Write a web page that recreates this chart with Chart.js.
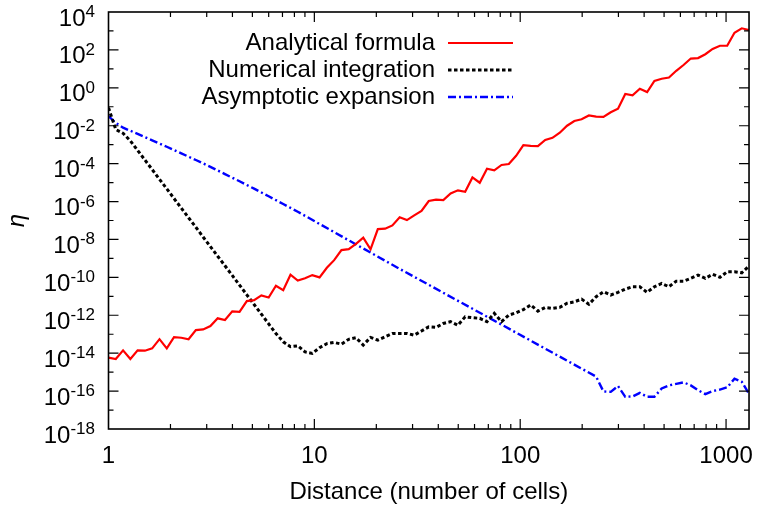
<!DOCTYPE html>
<html>
<head>
<meta charset="utf-8">
<script src="https://cdn.jsdelivr.net/npm/chart.js@4/dist/chart.umd.min.js"></script>
<style>
  html, body { margin: 0; padding: 0; background: #ffffff; }
  canvas { display: block; }
</style>
</head>
<body>
<canvas id="c" width="766" height="507"></canvas>
<script>
// ---------- data ----------
const distance = [
  1, 1.085, 1.177, 1.277, 1.385, 1.503, 1.630, 1.769, 1.919, 2.081,
  2.258, 2.449, 2.657, 2.882, 3.127, 3.392, 3.680, 3.992, 4.331, 4.698,
  5.097, 5.529, 5.998, 6.507, 7.059, 7.658, 8.307, 9.012, 9.774, 10.60,
  11.50, 12.48, 13.54, 14.69, 15.93, 17.28, 18.75, 20.34, 22.07, 23.94,
  25.97, 28.17, 30.56, 33.15, 35.96, 39.01, 42.32, 45.91, 49.81, 54.03,
  58.61, 63.59, 68.98, 74.83, 81.17, 88.06, 95.52, 103.6, 112.4, 121.9,
  132.3, 143.5, 155.7, 168.9, 183.2, 198.7, 215.6, 233.9, 253.7, 275.3,
  298.6, 323.9, 351.4, 381.2, 413.6, 448.7, 486.7, 528.0, 572.8, 621.4,
  674.1, 731.3, 793.3, 860.6, 933.6, 1013, 1099, 1192, 1293
];
const analytical = [
  5.8e-15, 4.9e-15, 1.4e-14, 4.9e-15, 1.4e-14, 1.35e-14, 1.8e-14, 5.5e-14, 1.8e-14, 7.1e-14,
  6.5e-14, 5.4e-14, 1.66e-13, 1.8e-13, 2.7e-13, 6.9e-13, 5.6e-13, 1.6e-12, 1.5e-12, 5.6e-12,
  6.3e-12, 1.12e-11, 8.7e-12, 3.6e-11, 2.1e-11, 1.38e-10, 6.8e-11, 8.9e-11, 1.32e-10, 1.0e-10,
  3.2e-10, 8.1e-10, 2.75e-9, 3.1e-9, 5.8e-9, 1.23e-8, 3.0e-9, 3.5e-8, 3.7e-8, 5.5e-8,
  1.48e-7, 1.05e-7, 1.86e-7, 3.2e-7, 1.07e-6, 1.26e-6, 1.2e-6, 2.7e-6, 3.9e-6, 3.3e-6,
  1.86e-5, 9.8e-6, 5.4e-5, 4.4e-5, 8.5e-5, 9.5e-5, 2.6e-4, 9.5e-4, 8.7e-4, 8.5e-4,
  1.78e-3, 2.3e-3, 4.3e-3, 1.0e-2, 1.78e-2, 2.2e-2, 3.5e-2, 3.0e-2, 2.9e-2, 5.1e-2,
  7.9e-2, 0.47, 0.40, 0.89, 0.60, 2.3, 3.0, 3.5, 7.9, 16,
  35, 37, 59, 112, 166, 166, 810, 1380, 1120
];
const numerical = [
  8.9e-2, 6.3e-3, 4.0e-3, 1.6e-3, 5.0e-4, 1.55e-4, 4.9e-5, 1.5e-5, 4.7e-6, 1.45e-6,
  4.5e-7, 1.4e-7, 4.4e-8, 1.35e-8, 4.2e-9, 1.3e-9, 4.1e-10, 1.26e-10, 3.9e-11, 1.2e-11,
  3.7e-12, 1.15e-12, 3.5e-13, 1.1e-13, 4.0e-14, 2.2e-14, 2.45e-14, 1.17e-14, 9.8e-15, 1.95e-14,
  3.2e-14, 3.7e-14, 3.0e-14, 5.4e-14, 6.5e-14, 2.7e-14, 6.8e-14, 4.9e-14, 7.4e-14, 1.1e-13,
  1.1e-13, 1.1e-13, 8.9e-14, 1.48e-13, 2.45e-13, 2.3e-13, 3.7e-13, 4.6e-13, 3.0e-13, 8.3e-13,
  7.4e-13, 6.9e-13, 4.6e-13, 1.26e-12, 4.6e-13, 1.02e-12, 1.35e-12, 2.0e-12, 3.5e-12, 1.66e-12,
  2.6e-12, 2.3e-12, 2.6e-12, 4.3e-12, 5.1e-12, 7.1e-12, 3.8e-12, 9.5e-12, 1.74e-11, 1.17e-11,
  1.62e-11, 2.4e-11, 3.2e-11, 3.2e-11, 1.62e-11, 3.2e-11, 4.8e-11, 3.2e-11, 6.3e-11, 6.3e-11,
  8.9e-11, 1.32e-10, 8.9e-11, 1.45e-10, 1.0e-10, 2.0e-10, 2.0e-10, 1.74e-10, 4.0e-10
];
const asymDistance = [
  1, 1.085, 1.177, 1.277, 1.385, 1.503, 1.630, 1.769, 1.919,
  2.258, 2.657, 3.127, 3.680, 4.331, 5.097, 5.998, 7.059, 8.307,
  25.97, 81.17,
  233.9, 253.7, 275.3, 298.6, 323.9, 351.4, 381.2, 413.6, 448.7, 486.7, 528.0,
  572.8, 621.4, 674.1, 731.3, 793.3, 860.6, 933.6, 1013, 1099, 1192, 1293
];
const asymptotic = [
  3.2e-2, 1.41e-2, 7.9e-3, 5.4e-3, 3.7e-3, 2.5e-3, 1.7e-3, 1.15e-3, 7.8e-4,
  3.5e-4, 1.55e-4, 6.8e-5, 2.8e-5, 1.17e-5, 4.8e-6, 1.9e-6, 7.4e-7, 2.9e-7,
  2.8e-10, 3.2e-13,
  5.8e-16, 9.5e-17, 9.1e-17, 1.86e-16, 5.0e-17, 5.2e-17, 8.1e-17, 5.0e-17, 5.0e-17, 1.38e-16, 2.0e-16,
  2.4e-16, 2.9e-16, 2.0e-16, 1.12e-16, 6.9e-17, 1.0e-16, 1.2e-16, 1.58e-16, 4.5e-16, 3.1e-16, 7.2e-17
];
const seriesNames = ['Analytical formula', 'Numerical integration', 'Asymptotic expansion'];
const xTickValues = [1, 10, 100, 1000];
const yTickPowers = [4, 2, 0, -2, -4, -6, -8, -10, -12, -14, -16, -18];
const xTitle = 'Distance (number of cells)';
const yTitle = 'η';

// ---------- chart ----------
const FONT = "'Liberation Sans', Arial, Helvetica, sans-serif";
const FS = 24;
const SUP = 17;

const pts = (xs, ys) => xs.map((v, i) => ({ x: v, y: ys[i] }));

const decorations = {
  id: 'decorations',
  afterDraw(chart) {
    const { ctx, chartArea: { left, right, top, bottom }, scales: { x, y } } = chart;
    ctx.save();
    // inward tick marks on all four sides
    ctx.strokeStyle = '#000';
    ctx.lineWidth = 1.2;
    ctx.beginPath();
    for (let d = 0; d <= 3; d++) {
      for (let k = 1; k <= 9; k++) {
        const v = k * Math.pow(10, d);
        if (v > x.max) break;
        const px = x.getPixelForValue(v);
        if (px <= left + 0.5 || px >= right - 0.5) continue;
        const len = k === 1 ? 10 : 5;
        ctx.moveTo(px, bottom); ctx.lineTo(px, bottom - len);
        ctx.moveTo(px, top); ctx.lineTo(px, top + len);
      }
    }
    for (let p = -18; p <= 4; p++) {
      const py = y.getPixelForValue(Math.pow(10, p));
      if (py <= top + 0.5 || py >= bottom - 0.5) continue;
      const len = (p % 2 === 0) ? 10 : 5;
      ctx.moveTo(left, py); ctx.lineTo(left + len, py);
      ctx.moveTo(right, py); ctx.lineTo(right - len, py);
    }
    ctx.stroke();
    // frame
    ctx.lineWidth = 1.6;
    ctx.strokeRect(left, top, right - left, bottom - top);

    // y tick labels: 10 with superscript exponent
    ctx.fillStyle = '#000';
    ctx.textBaseline = 'alphabetic';
    ctx.textAlign = 'left';
    const rightEdge = 95;
    yTickPowers.forEach(p => {
      const py = y.getPixelForValue(Math.pow(10, p));
      const ex = String(p);
      ctx.font = `${SUP}px ${FONT}`;
      const w2 = ctx.measureText(ex).width;
      ctx.font = `${FS}px ${FONT}`;
      const w1 = ctx.measureText('10').width;
      ctx.fillText('10', rightEdge - w2 - w1, py + 13.5);
      ctx.font = `${SUP}px ${FONT}`;
      ctx.fillText(ex, rightEdge - w2, py + 5);
    });

    // legend (text right-aligned, sample to the right)
    const rows = [43, 70, 97];
    chart.data.datasets.forEach((ds, i) => {
      ctx.font = `${FS}px ${FONT}`;
      ctx.textAlign = 'right';
      ctx.textBaseline = 'middle';
      ctx.fillStyle = '#000';
      ctx.fillText(ds.label, 435, rows[i]);
      ctx.save();
      ctx.strokeStyle = ds.borderColor;
      ctx.lineWidth = ds.borderWidth;
      ctx.setLineDash(ds.borderDash || []);
      ctx.beginPath();
      ctx.moveTo(448, rows[i]);
      ctx.lineTo(513, rows[i]);
      ctx.stroke();
      ctx.restore();
    });
    ctx.restore();
  }
};

new Chart(document.getElementById('c'), {
  type: 'line',
  data: {
    datasets: [
      { label: seriesNames[0], data: pts(distance, analytical), borderColor: '#ff0000', borderWidth: 2.2, borderDash: [] },
      { label: seriesNames[1], data: pts(distance, numerical), borderColor: '#000000', borderWidth: 3, borderDash: [3.5, 2.5] },
      { label: seriesNames[2], data: pts(asymDistance, asymptotic), borderColor: '#0000ff', borderWidth: 2.4, borderDash: [8, 3, 2, 3] }
    ]
  },
  options: {
    responsive: false,
    animation: false,
    devicePixelRatio: 1,
    layout: { padding: { top: 12, right: 7, left: 0, bottom: 0 } },
    elements: { point: { radius: 0 }, line: { tension: 0, fill: false, borderCapStyle: 'butt', borderJoinStyle: 'miter' } },
    plugins: { legend: { display: false }, tooltip: { enabled: false } },
    scales: {
      x: {
        type: 'logarithmic',
        min: 1, max: 1293,
        grid: { display: false, drawTicks: false },
        border: { display: false },
        afterBuildTicks: s => { s.ticks = xTickValues.map(v => ({ value: v })); },
        afterFit: s => { s.height = 78; },
        ticks: {
          autoSkip: false, maxRotation: 0, padding: 13,
          color: '#000', font: { family: FONT, size: FS },
          callback: v => String(v)
        },
        title: {
          display: true, text: xTitle, color: '#000',
          font: { family: FONT, size: FS }, padding: { top: 0, bottom: 0 }
        }
      },
      y: {
        type: 'logarithmic',
        min: 1e-18, max: 1e4,
        grid: { display: false, drawTicks: false },
        border: { display: false },
        afterBuildTicks: s => { s.ticks = yTickPowers.map(p => ({ value: Math.pow(10, p) })); },
        afterFit: s => { s.width = 108.5; },
        ticks: { display: false },
        title: {
          display: true, text: yTitle, color: '#000',
          font: { family: FONT, size: 24, style: 'italic' }, padding: { top: 3, bottom: 0 }
        }
      }
    }
  },
  plugins: [decorations]
});
</script>
</body>
</html>
